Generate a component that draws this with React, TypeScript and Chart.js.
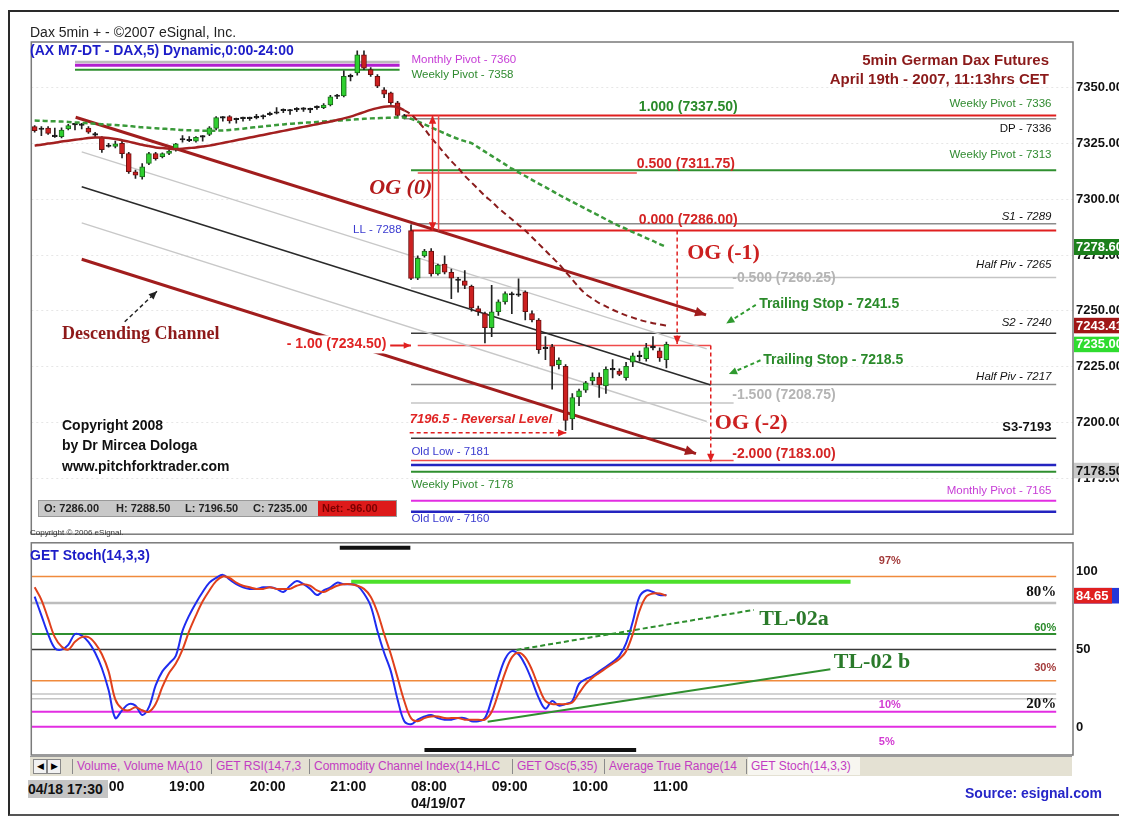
import React, { useEffect, useRef } from "react";
import { Chart, registerables } from "chart.js";

Chart.register(...registerables);

const SANS = "'Liberation Sans', Arial, Helvetica, sans-serif";
const SERIF = "'Liberation Serif', 'Times New Roman', serif";

// ---------------- categories: 5-minute bars ----------------
function pad2(n: number) { return String(n).padStart(2, "0"); }
const times: string[] = [];
for (let k = 0; k < 56; k++) { const m = 17 * 60 + 20 + 5 * k; times.push(`04/18 ${pad2(Math.floor(m / 60))}:${pad2(m % 60)}`); }
for (let k = 0; k < 99; k++) { const m = 8 * 60 + 5 * k; times.push(`04/19 ${pad2(Math.floor(m / 60))}:${pad2(m % 60)}`); }
const LAST_BAR = 94;
const SESSION_START = 56;

// ---------------- candles ----------------
const opens = [
  7332.5, 7331.5, 7331.9, 7328, 7328, 7331.5, 7333.3, 7333.4, 7331.8, 7329,
  7327.7, 7323.6, 7323.6, 7325, 7320.4, 7312.3, 7310, 7316, 7320.4, 7319,
  7320.5, 7322, 7326.5, 7326.5, 7326, 7328, 7329, 7331.7, 7336.6, 7337,
  7335.8, 7336.1, 7336.3, 7336.4, 7337, 7337.9, 7338.5, 7339.8, 7339.8, 7340.2,
  7340.2, 7340, 7341, 7341, 7342.2, 7346.2, 7346.2, 7355, 7356.5, 7364.6,
  7358, 7355, 7349, 7347.6, 7343.2, 7337.2,
  7286, 7264.6, 7274.6, 7276.8, 7266.5, 7271, 7267.3, 7264, 7263.5, 7261,
  7251, 7248.8, 7242.5, 7249.6, 7254, 7257.4, 7257.3, 7258.4, 7248.8, 7245.9,
  7233.5, 7234, 7225.9, 7225.2, 7201.6, 7211.5, 7214.5, 7218.6, 7220.4, 7216.4,
  7223.6, 7223, 7220.1, 7227, 7229.5, 7228.6, 7233.4, 7232.1, 7228.2,
];
const highs = [
  7333, 7332.5, 7332.5, 7331.8, 7332, 7333.5, 7334, 7334, 7332.5, 7330,
  7328, 7325, 7326, 7326.5, 7321, 7313, 7316, 7321, 7321, 7320.8,
  7322, 7325, 7328.5, 7328, 7328, 7328.5, 7332.5, 7337, 7337, 7337.5,
  7336.3, 7336.8, 7336.8, 7338, 7337.8, 7339, 7341, 7340.5, 7340.3, 7341,
  7341, 7340.8, 7341.8, 7342.8, 7346.5, 7347, 7357.5, 7356, 7366.5, 7366.5,
  7359, 7355.8, 7350, 7348, 7343.8, 7338,
  7288.5, 7274.6, 7277.6, 7277.9, 7271, 7274.6, 7268.7, 7265, 7268, 7261.5,
  7252.2, 7249.5, 7261.4, 7255, 7258.5, 7258.4, 7264.3, 7259, 7250, 7246.5,
  7238.5, 7235, 7229, 7226, 7213, 7215, 7218.5, 7222.3, 7222.3, 7225,
  7228.2, 7224, 7227, 7231.1, 7232, 7235.5, 7238.5, 7233.5, 7236,
];
const lows = [
  7330, 7328.5, 7329, 7327.7, 7327.5, 7331, 7331, 7331.5, 7329.5, 7327.8,
  7321, 7323.3, 7323, 7318.5, 7311.5, 7309.3, 7309, 7315.5, 7317.5, 7318.5,
  7320, 7321.5, 7325.5, 7325.8, 7325.5, 7326, 7328.5, 7331, 7335, 7334,
  7334, 7335, 7335.3, 7336, 7336, 7337.5, 7338.2, 7338.8, 7338, 7339.2,
  7339.3, 7338.8, 7340.2, 7340.5, 7341.8, 7345, 7345.8, 7353, 7355.5, 7358,
  7355, 7350, 7345.5, 7342.5, 7337, 7336,
  7264, 7264, 7274, 7265.5, 7266, 7266.5, 7255.5, 7258.4, 7260, 7249.9,
  7248, 7235.6, 7238.5, 7248, 7253, 7248.8, 7256.5, 7246, 7245, 7231,
  7228.2, 7214.9, 7224, 7196.5, 7196.8, 7207.5, 7213.5, 7217, 7211.2, 7213,
  7220, 7221, 7219, 7225, 7227.5, 7227.5, 7232.5, 7227.4, 7224.5,
];
const closes = [
  7330.7, 7331.2, 7329.5, 7328.3, 7331, 7333, 7333.5, 7333.1, 7330, 7328.7,
  7322.2, 7323.9, 7324.8, 7320.4, 7312.3, 7310.8, 7314.5, 7320.4, 7318.2, 7320.4,
  7321.6, 7324.8, 7326.8, 7326.2, 7327.7, 7327.8, 7332, 7336.6, 7336.3, 7335.1,
  7335.6, 7336.3, 7336.1, 7336.6, 7336.8, 7338.1, 7338.7, 7339.6, 7339.5, 7340,
  7340.4, 7340.2, 7341.2, 7342.2, 7345.9, 7346, 7355, 7354.8, 7364.6, 7358.7,
  7355.8, 7350.6, 7347, 7343.2, 7337.5, 7336.8,
  7264.5, 7273.5, 7276.8, 7266.5, 7270.5, 7267.3, 7264.6, 7263.6, 7261.4, 7251.3,
  7249.6, 7242.5, 7249.6, 7254, 7257.7, 7257.1, 7257, 7249.6, 7245.9, 7232.6,
  7233.1, 7225.2, 7228, 7200.9, 7211.2, 7214.2, 7217.8, 7220.4, 7216.8, 7223.8,
  7224, 7221.6, 7225.2, 7229.9, 7229.8, 7233.6, 7233.8, 7228.9, 7235,
];

// ---------------- moving averages ----------------
const maRed = [
  7324.0, 7324.4, 7324.9, 7325.3, 7325.8, 7326.2, 7326.6, 7327.0, 7327.4, 7327.6,
  7327.6, 7327.4, 7327.0, 7326.4, 7325.8, 7325.1, 7324.4, 7323.8, 7323.2, 7322.9,
  7322.6, 7322.5, 7322.6, 7322.9, 7323.2, 7323.6, 7324.0, 7324.6, 7325.2, 7325.8,
  7326.4, 7327.0, 7327.6, 7328.2, 7328.8, 7329.4, 7330.0, 7330.6, 7331.2, 7331.8,
  7332.4, 7333.0, 7333.6, 7334.2, 7334.8, 7335.5, 7336.2, 7337.0, 7338.0, 7339.0,
  7340.0, 7340.8, 7341.4, 7341.6, 7341.2, 7339.8,
  7338, 7335, 7331.5, 7327.5, 7324, 7320.5, 7317, 7314, 7310.5, 7307.5,
  7304.5, 7301.5, 7299, 7296, 7293.5, 7291, 7288.5, 7286, 7283, 7280,
  7277, 7274, 7271, 7267.5, 7264, 7260.5, 7257.5, 7255.5, 7253.5, 7252,
  7250.5, 7249.2, 7248, 7247, 7246, 7245.2, 7244.5, 7243.9, 7243.41,
];
const maGreen = [
  7335.2, 7335.1, 7335.0, 7334.9, 7334.8, 7334.6, 7334.4, 7334.2, 7334.0, 7333.8,
  7333.6, 7333.4, 7333.2, 7333.0, 7332.8, 7332.5, 7332.2, 7332.0, 7331.8, 7331.6,
  7331.4, 7331.2, 7331.0, 7330.9, 7330.8, 7330.7, 7330.7, 7330.7, 7330.8, 7331.0,
  7331.3, 7331.6, 7332.0, 7332.3, 7332.6, 7332.9, 7333.2, 7333.5, 7333.8, 7334.0,
  7334.2, 7334.4, 7334.6, 7334.8, 7335.0, 7335.2, 7335.4, 7335.6, 7335.8, 7336.0,
  7336.2, 7336.3, 7336.4, 7336.5, 7336.6, 7336.6,
  7336.0, 7334.8, 7333.5, 7332.2, 7330.8, 7329.5, 7328.2, 7327.0, 7326.0, 7325.1,
  7323.2, 7321.3, 7319.4, 7317.5, 7315.6, 7313.7, 7312.0, 7310.4, 7308.7, 7307.0,
  7305.4, 7303.7, 7302.0, 7300.4, 7298.8, 7297.3, 7295.7, 7294.1, 7292.6, 7291.0,
  7289.4, 7288.0, 7286.7, 7285.3, 7284.0, 7282.6, 7281.3, 7279.9, 7278.6,
];

// ---------------- stochastic (14,3,3) ----------------
const stochK = [
  84, 72, 60, 51, 50, 53, 60, 59, 55, 48,
  38, 24, 6, 11, 15, 14, 8, 13, 27, 36,
  41, 46, 62, 72, 80, 87, 93, 96, 98, 95,
  92, 90, 89, 89, 90, 90, 89, 87, 91, 94,
  92, 89, 85, 88, 90, 93, 92, 92, 91, 86,
  78, 62, 48, 36, 18, 4, 2, 5, 7, 8,
  6, 5, 5, 6, 6, 4, 4, 6, 18, 32,
  44, 49, 47, 40, 30, 19, 12, 17, 14, 15,
  17, 28, 31, 33, 36, 39, 42, 46, 54, 68,
  84, 88, 87, 85, 85,
];
const stochD = [
  90, 82, 70, 58, 52, 50, 55, 58, 58, 54,
  47, 36, 18, 12, 11, 13, 11, 10, 15, 26,
  35, 41, 50, 62, 72, 81, 88, 94, 97, 96,
  93, 91, 90, 89, 89, 90, 89, 89, 89, 91,
  92, 91, 88, 87, 89, 91, 92, 92, 91, 89,
  84, 74, 60, 47, 32, 17, 6, 4, 6, 7,
  7, 6, 6, 6, 5, 5, 5, 5, 10, 22,
  35, 45, 48, 45, 37, 26, 17, 15, 15, 15,
  16, 22, 28, 32, 35, 38, 41, 44, 49, 60,
  75, 84, 86, 86, 84.65,
];

// ---------------- axis ticks ----------------
const priceTicks = [7175, 7200, 7225, 7250, 7275, 7300, 7325, 7350];
const stochTicks = [0, 50, 100];

// ---------------- price levels: value, from bar, to bar, kind ----------------
const END = 152;
const priceLevels: [number, number, number, string][] = [
  [7361.5, 6, 54.3, "grayThick"],
  [7360, 6, 54.3, "purple"],
  [7358, 6, 54.3, "green"],
  [7337.5, 55, END, "red"],
  [7336, 55, END, "gray"],
  [7313, 56, END, "green"],
  [7311.75, 57, 89.6, "redLight"],
  [7289, 56, END, "gray"],
  [7286, 56, END, "red"],
  [7265, 56, END, "grayLight"],
  [7260.25, 56, 104, "grayLight"],
  [7240, 56, END, "black"],
  [7234.5, 57, 100.6, "redLight"],
  [7217, 56, END, "gray"],
  [7208.75, 56, 104, "grayLight"],
  [7193, 56, END, "black"],
  [7183, 56, 104, "redLight"],
  [7181, 56, END, "blue"],
  [7178, 56, END, "green"],
  [7165, 56, END, "magenta"],
  [7160, 56, END, "blue"],
];
// pitchfork / descending channel: bar0, value0, bar1, value1, kind
const channelLines: [number, number, number, number, string][] = [
  [6.1, 7336.7, 99.9, 7248.2, "chanRed"],
  [7.0, 7321.2, 100, 7233.0, "chanGray"],
  [7.0, 7305.6, 100.6, 7216.8, "chanBlack"],
  [7.0, 7289.4, 100, 7200.5, "chanGray"],
  [7.0, 7273.1, 98.4, 7186.1, "chanRed"],
];
// arrows: bar0, value0, bar1, value1, kind
const priceArrows: [number, number, number, number, string][] = [
  [59.2, 7337.5, 59.2, 7286, "redBoth"],
  [95.6, 7286, 95.6, 7235.2, "redDash"],
  [100.6, 7234.5, 100.6, 7182.3, "redDash"],
  [52.9, 7234.5, 56.0, 7234.5, "redSolid"],
  [55.8, 7195.4, 79.1, 7195.4, "redDash"],
  [107.3, 7252.7, 102.9, 7244.3, "greenDash"],
  [108.0, 7227.9, 103.3, 7221.7, "greenDash"],
  [13.4, 7245.1, 18.2, 7258.8, "blackDash"],
];
// text notes: bar, value, text, kind
const priceNotes: [number, number, string, string][] = [
  [56.06, 7362.4, "Monthly Pivot - 7360", "magL"],
  [56.06, 7355.8, "Weekly Pivot - 7358", "greenL"],
  [89.9, 7341.2, "1.000 (7337.50)", "fibG"],
  [151.3, 7342.5, "Weekly Pivot - 7336", "greenR"],
  [151.3, 7331.4, "DP - 7336", "blackR"],
  [151.3, 7319.9, "Weekly Pivot - 7313", "greenR"],
  [89.6, 7315.5, "0.500 (7311.75)", "fibR"],
  [49.8, 7304.9, "OG (0)", "ogItal"],
  [151.3, 7292.0, "S1 - 7289", "italR"],
  [89.9, 7290.7, "0.000 (7286.00)", "fibR"],
  [54.6, 7286.3, "LL - 7288", "blueR"],
  [97.1, 7275.7, "OG (-1)", "og"],
  [151.3, 7270.8, "Half Piv - 7265", "italR"],
  [103.8, 7264.6, "-0.500 (7260.25)", "fibGray"],
  [107.8, 7253.1, "Trailing Stop - 7241.5", "trail"],
  [151.3, 7244.7, "S2 - 7240", "italR"],
  [37.5, 7235.0, "- 1.00 (7234.50)", "fibRbg"],
  [108.4, 7227.9, "Trailing Stop - 7218.5", "trail"],
  [151.3, 7220.4, "Half Piv - 7217", "italR"],
  [103.8, 7212.4, "-1.500 (7208.75)", "fibGray"],
  [55.8, 7201.3, "7196.5 - Reversal Level", "rev"],
  [101.2, 7199.6, "OG (-2)", "og"],
  [151.3, 7197.8, "S3-7193", "boldR"],
  [56.06, 7186.7, "Old Low - 7181", "blueL"],
  [103.8, 7185.8, "-2.000 (7183.00)", "fibR"],
  [56.06, 7172.1, "Weekly Pivot - 7178", "greenL"],
  [151.3, 7169.5, "Monthly Pivot - 7165", "magR"],
  [56.06, 7157.0, "Old Low - 7160", "blueL"],
  [4.06, 7239.4, "Descending Channel", "desc"],
];
// axis badges: value, kind
const priceBadges: [number, string][] = [
  [7278.6, "badgeDkGreen"],
  [7243.41, "badgeDkRed"],
  [7235.0, "badgeGreen"],
  [7178.5, "badgeGray"],
];

// stochastic decorations
const stochLevels: [number, string][] = [
  [97, "orange"], [80, "grayThick"], [60, "green"], [50, "black"], [30, "orange"],
  [21.5, "grayLight"], [18.5, "grayLight"], [10, "magenta"], [0.5, "magenta"],
];
const stochSegments: [number, number, number, number, string][] = [
  [47.1, 93.6, 121.4, 93.6, "lime"],
  [71.7, 49.8, 107, 75.5, "tlDash"],
  [67.4, 3.7, 118.4, 37.4, "tlSolid"],
  [45.4, 115.4, 55.9, 115.4, "blackBar"],
  [58, -14.5, 89.5, -14.5, "blackBar"],
];
const stochNotes: [number, number, string, string][] = [
  [125.6, 107, "97%", "pctRed"],
  [152, 87.2, "80%", "pctSerif"],
  [152, 63.9, "60%", "pctGreenR"],
  [152, 38.2, "30%", "pctRedR"],
  [152, 15.0, "20%", "pctSerif"],
  [125.6, 14.6, "10%", "pctMag"],
  [125.6, -9.3, "5%", "pctMag"],
  [107.8, 69.5, "TL-02a", "tl"],
  [118.9, 41.6, "TL-02 b", "tl"],
];

// ---------------- styles (kept apart from data) ----------------
const LINE_STYLE: Record<string, { c: string; w: number; dash?: number[]; head?: number; both?: boolean }> = {
  grayThick: { c: "#bdbdbd", w: 2.5 },
  purple: { c: "#b21fcf", w: 3 },
  green: { c: "#2f8f2f", w: 2 },
  red: { c: "#e01f1f", w: 2 },
  redLight: { c: "#ef4a4a", w: 1.5 },
  gray: { c: "#8c8c8c", w: 1.5 },
  grayLight: { c: "#c4c4c4", w: 1.5 },
  black: { c: "#3a3a3a", w: 1.5 },
  blue: { c: "#2424c0", w: 2.5 },
  magenta: { c: "#e22ee2", w: 2 },
  orange: { c: "#f08a3c", w: 1.5 },
  chanRed: { c: "#a11d1d", w: 3, head: 12 },
  chanGray: { c: "#c8c8c8", w: 1.5 },
  chanBlack: { c: "#2a2a2a", w: 1.5 },
  redBoth: { c: "#e02020", w: 1.5, head: 9, both: true },
  redDash: { c: "#e02020", w: 1.5, dash: [4, 3], head: 9 },
  redSolid: { c: "#e02020", w: 2, head: 8 },
  greenDash: { c: "#2f9a2f", w: 2, dash: [4, 3], head: 9 },
  blackDash: { c: "#222", w: 1.5, dash: [4, 3], head: 9 },
  lime: { c: "#4de02a", w: 4 },
  tlDash: { c: "#2f8f2f", w: 2, dash: [5, 3] },
  tlSolid: { c: "#2f8f2f", w: 2 },
  blackBar: { c: "#111", w: 4 },
};
const TEXT_STYLE: Record<string, { f: string; c: string; a: CanvasTextAlign; bg?: string }> = {
  magL: { f: `11.5px ${SANS}`, c: "#c63cd6", a: "left" },
  magR: { f: `11.5px ${SANS}`, c: "#c63cd6", a: "right" },
  greenL: { f: `11.5px ${SANS}`, c: "#2f8a2f", a: "left" },
  greenR: { f: `11.5px ${SANS}`, c: "#2f8a2f", a: "right" },
  blackR: { f: `11.5px ${SANS}`, c: "#111", a: "right" },
  italR: { f: `italic 11.5px ${SANS}`, c: "#111", a: "right" },
  boldR: { f: `bold 13px ${SANS}`, c: "#111", a: "right" },
  blueR: { f: `11.5px ${SANS}`, c: "#3b3bd0", a: "right" },
  blueL: { f: `11.5px ${SANS}`, c: "#3b3bd0", a: "left" },
  fibG: { f: `bold 14px ${SANS}`, c: "#2a8a2a", a: "left" },
  fibR: { f: `bold 14px ${SANS}`, c: "#d42424", a: "left" },
  fibRbg: { f: `bold 14px ${SANS}`, c: "#e02424", a: "left", bg: "#ffffff" },
  fibGray: { f: `bold 14px ${SANS}`, c: "#b4b4b4", a: "left" },
  trail: { f: `bold 14px ${SANS}`, c: "#2a8a2a", a: "left" },
  rev: { f: `italic bold 13px ${SANS}`, c: "#e02424", a: "left" },
  og: { f: `bold 22px ${SERIF}`, c: "#cc2020", a: "left" },
  ogItal: { f: `italic bold 22px ${SERIF}`, c: "#b41c1c", a: "left" },
  desc: { f: `bold 18px ${SERIF}`, c: "#8e1a1a", a: "left" },
  pctRed: { f: `bold 11px ${SANS}`, c: "#a33a3a", a: "left" },
  pctRedR: { f: `bold 11px ${SANS}`, c: "#a33a3a", a: "right" },
  pctGreenR: { f: `bold 11px ${SANS}`, c: "#2a8a2a", a: "right" },
  pctMag: { f: `bold 11px ${SANS}`, c: "#d23ad2", a: "left" },
  pctSerif: { f: `bold 15px ${SERIF}`, c: "#111", a: "right" },
  tl: { f: `bold 22px ${SERIF}`, c: "#2a7a2a", a: "left" },
};
const BADGE_STYLE: Record<string, { bg: string; c: string }> = {
  badgeDkGreen: { bg: "#1c801c", c: "#ffffff" },
  badgeDkRed: { bg: "#a01616", c: "#ffffff" },
  badgeGreen: { bg: "#2fdc2f", c: "#ffffff" },
  badgeGray: { bg: "#c9c9c9", c: "#111111" },
};

// ---------------- drawing helpers ----------------
function drawSeg(ctx: CanvasRenderingContext2D, x1: number, y1: number, x2: number, y2: number, kind: string) {
  const s = LINE_STYLE[kind];
  ctx.save();
  ctx.strokeStyle = s.c; ctx.fillStyle = s.c; ctx.lineWidth = s.w;
  ctx.setLineDash(s.dash || []);
  ctx.beginPath(); ctx.moveTo(x1, y1); ctx.lineTo(x2, y2); ctx.stroke();
  ctx.setLineDash([]);
  const head = (xa: number, ya: number, xb: number, yb: number) => {
    const a = Math.atan2(yb - ya, xb - xa);
    const h = s.head || 0;
    ctx.beginPath();
    ctx.moveTo(xb, yb);
    ctx.lineTo(xb - h * Math.cos(a - 0.42), yb - h * Math.sin(a - 0.42));
    ctx.lineTo(xb - h * Math.cos(a + 0.42), yb - h * Math.sin(a + 0.42));
    ctx.closePath(); ctx.fill();
  };
  if (s.head) { head(x1, y1, x2, y2); if (s.both) head(x2, y2, x1, y1); }
  ctx.restore();
}
function drawNote(ctx: CanvasRenderingContext2D, x: number, y: number, text: string, kind: string) {
  const s = TEXT_STYLE[kind];
  ctx.save();
  ctx.font = s.f; ctx.textAlign = s.a; ctx.textBaseline = "middle";
  if (s.bg) {
    const w = ctx.measureText(text).width;
    ctx.fillStyle = s.bg;
    ctx.fillRect(s.a === "right" ? x - w - 2 : x - 2, y - 9, w + 4, 18);
  }
  ctx.fillStyle = s.c;
  ctx.fillText(text, x, y);
  ctx.restore();
}
function drawBadge(chart: any, value: number, text: string, bg: string, color: string, clipRight?: number) {
  const { ctx, chartArea: a, scales: { y } } = chart;
  const yy = y.getPixelForValue(value);
  ctx.save();
  const right = clipRight ?? chart.width;
  ctx.beginPath(); ctx.rect(a.right + 1, yy - 8, right - a.right - 1, 16); ctx.clip();
  ctx.fillStyle = bg; ctx.fillRect(a.right + 1, yy - 8, right - a.right - 1, 16);
  ctx.fillStyle = color; ctx.font = `bold 13px ${SANS}`; ctx.textAlign = "left"; ctx.textBaseline = "middle";
  ctx.fillText(text, a.right + 3, yy + 0.5);
  ctx.restore();
}
function frame(chart: any) {
  const { ctx, chartArea: a } = chart;
  ctx.save(); ctx.strokeStyle = "#7a7a7a"; ctx.lineWidth = 1.5;
  ctx.strokeRect(a.left, a.top, a.right - a.left, a.bottom - a.top);
  ctx.restore();
}

const pricePlugin = {
  id: "priceNotes",
  beforeDatasetsDraw(chart: any) {
    const { ctx, chartArea: a, scales: { x, y } } = chart;
    ctx.save();
    ctx.beginPath(); ctx.rect(a.left, a.top, a.right - a.left, a.bottom - a.top); ctx.clip();
    for (const [v, i0, i1, kind] of priceLevels) {
      const yy = y.getPixelForValue(v);
      drawSeg(ctx, x.getPixelForValue(i0), yy, x.getPixelForValue(i1), yy, kind);
    }
    for (const [i0, v0, i1, v1, kind] of channelLines) {
      drawSeg(ctx, x.getPixelForValue(i0), y.getPixelForValue(v0), x.getPixelForValue(i1), y.getPixelForValue(v1), kind);
    }
    ctx.restore();
  },
  afterDatasetsDraw(chart: any) {
    const { ctx, scales: { x, y } } = chart;
    for (const [i, v, text, kind] of priceNotes) drawNote(ctx, x.getPixelForValue(i), y.getPixelForValue(v), text, kind);
    for (const [i0, v0, i1, v1, kind] of priceArrows) {
      drawSeg(ctx, x.getPixelForValue(i0), y.getPixelForValue(v0), x.getPixelForValue(i1), y.getPixelForValue(v1), kind);
    }
    // thin companion line of the OG(0) measure
    drawSeg(ctx, x.getPixelForValue(60.1), y.getPixelForValue(7337.5), x.getPixelForValue(60.1), y.getPixelForValue(7286), "redLight");
    frame(chart);
    for (const [v, kind] of priceBadges) drawBadge(chart, v, v.toFixed(2), BADGE_STYLE[kind].bg, BADGE_STYLE[kind].c);
  },
};

const stochPlugin = {
  id: "stochNotes",
  beforeDatasetsDraw(chart: any) {
    const { ctx, chartArea: a, scales: { x, y } } = chart;
    ctx.save();
    ctx.beginPath(); ctx.rect(a.left, a.top, a.right - a.left, a.bottom - a.top); ctx.clip();
    for (const [v, kind] of stochLevels) {
      const yy = y.getPixelForValue(v);
      drawSeg(ctx, a.left, yy, x.getPixelForValue(END), yy, kind);
    }
    const [i0, v0, i1, v1, kind] = stochSegments[0];
    drawSeg(ctx, x.getPixelForValue(i0), y.getPixelForValue(v0), x.getPixelForValue(i1), y.getPixelForValue(v1), kind);
    ctx.restore();
  },
  afterDatasetsDraw(chart: any) {
    const { ctx, scales: { x, y } } = chart;
    for (const [i0, v0, i1, v1, kind] of stochSegments.slice(1)) {
      drawSeg(ctx, x.getPixelForValue(i0), y.getPixelForValue(v0), x.getPixelForValue(i1), y.getPixelForValue(v1), kind);
    }
    for (const [i, v, text, kind] of stochNotes) drawNote(ctx, x.getPixelForValue(i), y.getPixelForValue(v), text, kind);
    frame(chart);
    const d = stochD[LAST_BAR];
    drawBadge(chart, d, d.toFixed(2), "#2436d8", "#ffffff");
    drawBadge(chart, d, d.toFixed(2), "#e02020", "#ffffff", chart.chartArea.right + 39);
  },
};

const bodyFill = opens.map((o, i) => (Math.abs(closes[i] - o) <= 0.5 ? "#151515" : closes[i] > o ? "#2fcf2f" : "#cc2020"));
const bodyEdge = opens.map((o, i) => (Math.abs(closes[i] - o) <= 0.5 ? "#151515" : closes[i] > o ? "#1b6a1b" : "#6a1010"));

function hourLabel(index: number): string | string[] {
  if (index > LAST_BAR) return "";
  const t = times[index];
  if (!t.endsWith(":00")) return "";
  const hm = t.slice(6);
  if (index === SESSION_START) return [hm, "04/19/07"];
  return hm;
}

export default function App() {
  const priceRef = useRef<HTMLCanvasElement>(null);
  const stochRef = useRef<HTMLCanvasElement>(null);

  useEffect(() => {
    document.documentElement.style.overflow = "hidden";
    document.body.style.overflow = "hidden";

    const price = new Chart(priceRef.current as HTMLCanvasElement, {
      type: "bar",
      data: {
        labels: times,
        datasets: [
          {
            type: "line", data: maRed, borderColor: "#a32020", borderWidth: 2.5, pointRadius: 0, tension: 0.3, order: 0,
            segment: {
              borderDash: (c: any) => (c.p0DataIndex >= 55 ? [6, 4] : undefined),
              borderColor: (c: any) => (c.p0DataIndex >= 55 ? "#8a1c1c" : undefined),
              borderWidth: (c: any) => (c.p0DataIndex >= 55 ? 2 : undefined),
            },
          } as any,
          { type: "line", data: maGreen, borderColor: "#3a9a3a", borderWidth: 2.5, borderDash: [5, 3], pointRadius: 0, tension: 0.3, order: 1 } as any,
          { type: "bar", data: lows.map((l, i) => [l, highs[i]]), backgroundColor: "#222", barThickness: 1, grouped: false, order: 3 } as any,
          {
            type: "bar", data: opens.map((o, i) => [o, closes[i]]), backgroundColor: bodyFill, borderColor: bodyEdge,
            borderWidth: 1, borderSkipped: false, barThickness: 5, minBarLength: 1.5, grouped: false, order: 2,
          } as any,
        ],
      },
      options: {
        responsive: false, animation: false, devicePixelRatio: 1,
        layout: { padding: { left: 23.3, top: 34, right: 0, bottom: 5 } },
        plugins: { legend: { display: false }, tooltip: { enabled: false } },
        scales: {
          x: { type: "category", display: false, offset: true, grid: { display: false } },
          y: {
            position: "right", min: 7150, max: 7370.4,
            afterBuildTicks: (s: any) => { s.ticks = priceTicks.map((v) => ({ value: v })); },
            afterFit: (s: any) => { s.width = 54; },
            ticks: { callback: (v: any) => Number(v).toFixed(2), font: { family: SANS, size: 13, weight: "bold" }, color: "#111", padding: 3 },
            grid: { color: "#e6e6e6", drawTicks: false },
            border: { display: false, dash: [2, 3] },
          },
        },
      } as any,
      plugins: [pricePlugin],
    });

    const stoch = new Chart(stochRef.current as HTMLCanvasElement, {
      type: "line",
      data: {
        labels: times,
        datasets: [
          { data: stochD, borderColor: "#e0401c", borderWidth: 2, pointRadius: 0, tension: 0.35 },
          { data: stochK, borderColor: "#1f2cf0", borderWidth: 2, pointRadius: 0, tension: 0.35 },
        ],
      },
      options: {
        responsive: false, animation: false, devicePixelRatio: 1,
        layout: { padding: { left: 23.3, top: 2, right: 0, bottom: 2 } },
        plugins: { legend: { display: false }, tooltip: { enabled: false } },
        scales: {
          x: {
            type: "category", offset: true,
            grid: { display: false, drawTicks: false }, border: { display: false },
            afterFit: (s: any) => { s.height = 58; },
            ticks: {
              autoSkip: false, maxRotation: 0, minRotation: 0, align: "start", padding: 23.5,
              font: { family: SANS, size: 14, weight: "bold" }, color: "#111",
              callback: (_v: any, index: number) => hourLabel(index),
            },
          },
          y: {
            position: "right", min: -17.7, max: 118.6,
            afterBuildTicks: (s: any) => { s.ticks = stochTicks.map((v) => ({ value: v })); },
            afterFit: (s: any) => { s.width = 54; },
            ticks: { font: { family: SANS, size: 13, weight: "bold" }, color: "#111", padding: 3 },
            grid: { display: false, drawTicks: false },
            border: { display: false },
          },
        },
      } as any,
      plugins: [stochPlugin],
    });

    return () => { price.destroy(); stoch.destroy(); };
  }, []);

  // helper for overlay text (page coordinates; y = vertical centre)
  const at = (x: number, y: number, size: number, style: React.CSSProperties, text: React.ReactNode, key: string) => (
    <div key={key} style={{ position: "absolute", left: x - 8, top: y - 8 - (size + 3) / 2, fontSize: size, lineHeight: `${size + 3}px`, fontFamily: SANS, whiteSpace: "nowrap", ...style }}>{text}</div>
  );
  const tabs: [number, string][] = [
    [78, "Volume, Volume MA(10"], [217, "GET RSI(14,7,3"], [315, "Commodity Channel Index(14,HLC"],
    [518, "GET Osc(5,35)"], [610, "Average True Range(14"], [752, "GET Stoch(14,3,3)"],
  ];

  return (
    <div style={{ position: "relative", width: 1119, height: 810, background: "#fff", overflow: "hidden" }}>
      <div style={{ position: "absolute", left: 0, top: 2, width: 1140, height: 806, borderTop: "2px solid #2a2a2a", borderLeft: "2px solid #2a2a2a", borderBottom: "2px solid #555", boxSizing: "border-box" }} />
      <canvas ref={priceRef} width={1119} height={537} style={{ position: "absolute", left: 0, top: 0, width: 1119, height: 537 }} />
      <canvas ref={stochRef} width={1119} height={283} style={{ position: "absolute", left: 0, top: 524, width: 1119, height: 283 }} />

      {at(30, 32, 14, { color: "#222" }, "Dax 5min  + - \u00A92007 eSignal, Inc.", "h1")}
      {at(30, 50, 14, { color: "#1c1cc8", fontWeight: "bold" }, "(AX M7-DT - DAX,5) Dynamic,0:00-24:00", "h2")}
      <div style={{ position: "absolute", left: 700 - 8, top: 50 - 8, width: 1049 - 700, textAlign: "right", fontFamily: SANS, fontWeight: "bold", fontSize: 15, lineHeight: "19px", color: "#8b1a1a" }}>
        5min German Dax Futures<br />April 19th - 2007, 11:13hrs CET
      </div>
      {at(62, 425, 14, { color: "#111", fontWeight: "bold" }, "Copyright 2008", "c1")}
      {at(62, 445, 14, { color: "#111", fontWeight: "bold" }, "by Dr Mircea Dologa", "c2")}
      {at(62, 466, 14, { color: "#111", fontWeight: "bold" }, "www.pitchforktrader.com", "c3")}

      <div style={{ position: "absolute", left: 38 - 8, top: 500 - 8, width: 359, height: 17, background: "#c8c8c8", border: "1px solid #999", boxSizing: "border-box", fontFamily: SANS, fontSize: 11, fontWeight: "bold", lineHeight: "15px", color: "#222" }}>
        <span style={{ position: "absolute", left: 5 }}>O: 7286.00</span>
        <span style={{ position: "absolute", left: 77 }}>H: 7288.50</span>
        <span style={{ position: "absolute", left: 146 }}>L: 7196.50</span>
        <span style={{ position: "absolute", left: 214 }}>C: 7235.00</span>
        <span style={{ position: "absolute", left: 279, width: 78, height: 15, background: "#dd1a1a", color: "#7a0000", paddingLeft: 4, boxSizing: "border-box" }}>Net: -96.00</span>
      </div>
      {at(30, 532, 8, { color: "#333" }, "Copyright \u00A9 2006 eSignal.", "es")}
      {at(30, 555, 14, { color: "#1c1cc8", fontWeight: "bold" }, "GET Stoch(14,3,3)", "gs")}

      <div style={{ position: "absolute", left: 30 - 8, top: 756 - 8, width: 1042, height: 20, background: "#e4e1d3", borderTop: "1px solid #9a9a9a", boxSizing: "border-box" }} />
      <div style={{ position: "absolute", left: 748 - 8, top: 757 - 8, width: 112, height: 18, background: "#f7f6f0" }} />
      {at(33, 765, 10, { width: 12, height: 13, border: "1px solid #888", background: "#f2f2f2", textAlign: "center", lineHeight: "13px", fontSize: 9 }, "\u25C0", "b1")}
      {at(47, 765, 10, { width: 12, height: 13, border: "1px solid #888", background: "#f2f2f2", textAlign: "center", lineHeight: "13px", fontSize: 9 }, "\u25B6", "b2")}
      {tabs.map(([x, t], k) => at(x, 766, 12, { color: "#c23cc2", borderLeft: "1px solid #8a8a8a", paddingLeft: 4, marginLeft: -6 }, t, `t${k}`))}

      {at(28, 788, 14, { background: "#c4c4c4", color: "#111", fontWeight: "bold", width: 80, height: 18, lineHeight: "18px" }, "04/18 17:30", "cur")}
      {at(965, 793, 14, { color: "#2525c8", fontWeight: "bold" }, "Source: esignal.com", "src")}
    </div>
  );
}
